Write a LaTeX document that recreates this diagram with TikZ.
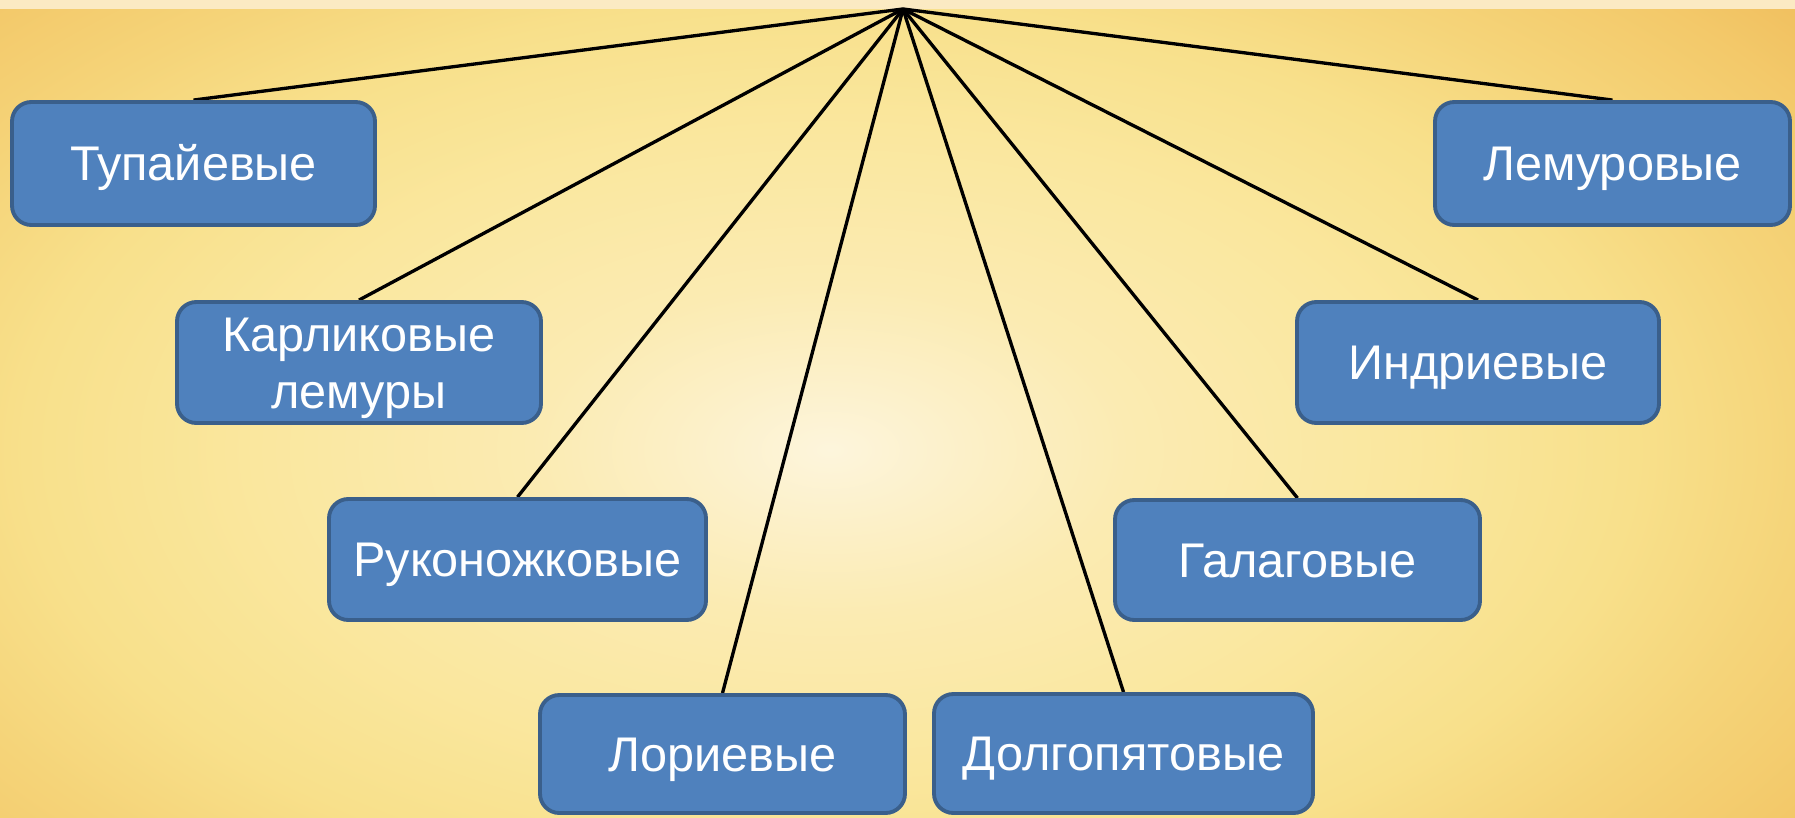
\documentclass[tikz,border=0pt]{standalone}
\usepackage{fontspec}
\setmainfont{Liberation Sans}
\definecolor{bgA}{HTML}{FDF5DC}
\definecolor{bgAB}{HTML}{FCF0C8}
\definecolor{bgB}{HTML}{FBEBB2}
\definecolor{bgC}{HTML}{FAE79E}
\definecolor{bgD}{HTML}{F8E08B}
\definecolor{bgE}{HTML}{F5D479}
\definecolor{bgF}{HTML}{F3C96A}
\definecolor{bgG}{HTML}{F0BD5C}
\definecolor{topstrip}{HTML}{FBEAC3}
\definecolor{boxfill}{HTML}{4F81BD}
\definecolor{boxline}{HTML}{3A5F8B}
\pgfdeclareradialshading{bgshade}{\pgfpoint{0bp}{0bp}}{color(0bp)=(bgA); color(3bp)=(bgAB); color(6.5bp)=(bgB); color(12.5bp)=(bgC); color(17.5bp)=(bgD); color(21.25bp)=(bgE); color(25bp)=(bgF); color(28bp)=(bgG); color(50bp)=(bgG)}
\pgfdeclarelayer{back}
\pgfdeclarelayer{lines}
\pgfsetlayers{back,lines,main}
\begin{document}
\begin{tikzpicture}[x=0.02cm,y=-0.02cm,
  box/.style={draw=boxline, fill=boxfill, line width=2.2pt, rounded corners=11pt,
    text=white, align=center, inner sep=0pt, text height=19.8pt, text depth=0pt,
    font=\fontsize{27.7}{32.3}\selectfont},
  link/.style={draw=black, line width=1.9pt}]
\useasboundingbox (0,0) rectangle (1795,818);
\begin{pgfonlayer}{back}
  \begin{scope}
    \clip (0,0) rectangle (1795,818);
    \shade[shading=bgshade] (-320,-190) rectangle (1980,1090);
    \fill[topstrip] (0,0) rectangle (1795,9);
  \end{scope}
\end{pgfonlayer}
\coordinate (apex) at (903,9);
\node[box, minimum width=363*0.02cm, minimum height=123*0.02cm] (tup) at (193.5,163.5) {Тупайевые};
\node[box, minimum width=355*0.02cm, minimum height=123*0.02cm] (lem) at (1612.5,163.5) {Лемуровые};
\node[box, minimum width=364*0.02cm, minimum height=121*0.02cm, text height=52.1pt] (karl) at (359,362.5) {Карликовые\\лемуры};
\node[box, minimum width=362*0.02cm, minimum height=121*0.02cm] (ind) at (1478,362.5) {Индриевые};
\node[box, minimum width=377*0.02cm, minimum height=121*0.02cm] (ruk) at (517.5,559.5) {Руконожковые};
\node[box, minimum width=365*0.02cm, minimum height=120*0.02cm] (gal) at (1297.5,560) {Галаговые};
\node[box, minimum width=365*0.02cm, minimum height=118*0.02cm] (lor) at (722.5,754) {Лориевые};
\node[box, minimum width=379*0.02cm, minimum height=119*0.02cm] (dol) at (1123.5,753.5) {Долгопятовые};
\begin{pgfonlayer}{lines}
  \foreach \n in {tup,lem,karl,ind,ruk,gal,lor,dol}
    \draw[link] (apex) -- (\n.north);
\end{pgfonlayer}
\end{tikzpicture}
\end{document}
